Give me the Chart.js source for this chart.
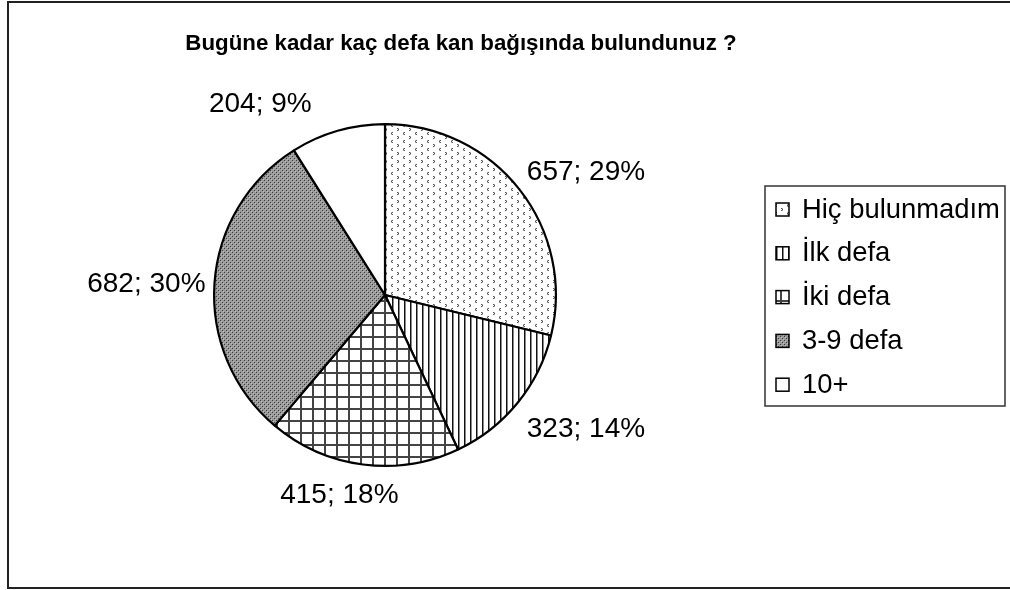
<!DOCTYPE html>
<html>
<head>
<meta charset="utf-8">
<script src="https://cdn.jsdelivr.net/npm/chart.js@4/dist/chart.umd.min.js"></script>
<style>
  html, body { margin: 0; padding: 0; background: #fff; }
  #wrap { width: 1010px; height: 590px; position: relative; }
</style>
</head>
<body>
<div id="wrap"><canvas id="c" width="1010" height="590"></canvas></div>
<script>
const chartTitle = 'Bugüne kadar kaç defa kan bağışında bulundunuz ?';
const categories = ['Hiç bulunmadım', 'İlk defa', 'İki defa', '3-9 defa', '10+'];
const counts = [657, 323, 415, 682, 204];

const FONT = "'Liberation Sans', Arial, sans-serif";

function makePattern(w, h, draw) {
  const c = document.createElement('canvas');
  c.width = w; c.height = h;
  const g = c.getContext('2d');
  draw(g, w, h);
  return g.createPattern(c, 'repeat');
}
const ctxMain = document.getElementById('c').getContext('2d');

const patHic = makePattern(12, 8, (g) => {
  g.fillStyle = '#fff'; g.fillRect(0, 0, 12, 8);
  g.fillStyle = '#555';
  // ">" glyph
  g.fillRect(1, 0, 1, 1); g.fillRect(2, 1, 1, 1); g.fillRect(1, 2, 1, 1);
  // "<" glyph
  g.fillRect(8, 4, 1, 1); g.fillRect(7, 5, 1, 1); g.fillRect(8, 6, 1, 1);
  g.fillStyle = '#aaa';
  g.fillRect(2, 0, 1, 1); g.fillRect(2, 2, 1, 1);
  g.fillRect(7, 4, 1, 1); g.fillRect(7, 6, 1, 1);
});
const patIlk = makePattern(6, 6, (g) => {
  g.fillStyle = '#fff'; g.fillRect(0, 0, 6, 6);
  g.fillStyle = '#111'; g.fillRect(2, 0, 1, 6);
  g.fillStyle = '#888'; g.fillRect(3, 0, 1, 6);
});
const patIki = makePattern(12, 12, (g) => {
  g.fillStyle = '#fff'; g.fillRect(0, 0, 12, 12);
  g.fillStyle = '#444'; g.fillRect(0, 0, 2, 12); g.fillRect(0, 0, 12, 2);
});
const pat39 = makePattern(4, 4, (g) => {
  g.fillStyle = '#9a9a9a'; g.fillRect(0, 0, 4, 4);
  g.fillStyle = '#3a3a3a'; g.fillRect(0, 0, 1, 1); g.fillRect(2, 2, 1, 1);
  g.fillStyle = '#c0c0c0'; g.fillRect(1, 1, 1, 1); g.fillRect(3, 3, 1, 1);
});
const fills = [patHic, patIlk, patIki, pat39, '#ffffff'];

const total = counts.reduce((a, b) => a + b, 0);

const framePlugin = {
  id: 'frame',
  beforeDraw(chart) {
    const g = chart.ctx;
    g.save();
    g.fillStyle = '#fff';
    g.fillRect(0, 0, chart.width, chart.height);
    g.strokeStyle = '#222';
    g.lineWidth = 2;
    g.strokeRect(8, 2, chart.width + 10, chart.height - 4);
    // title
    g.fillStyle = '#000';
    g.font = 'bold 22.3px ' + FONT;
    g.textAlign = 'center';
    g.textBaseline = 'middle';
    g.fillText(chartTitle, 461, 44);
    g.restore();
  }
};

const labelPlugin = {
  id: 'sliceLabels',
  afterDatasetsDraw(chart, args, opts) {
    const g = chart.ctx;
    const meta = chart.getDatasetMeta(0);
    const ds = chart.data.datasets[0];
    const nudge = opts.nudge || [];
    g.save();
    g.fillStyle = '#000';
    g.font = '28px ' + FONT;
    meta.data.forEach((arc, i) => {
      const p = arc.getProps(['x', 'y', 'startAngle', 'endAngle', 'outerRadius'], true);
      const mid = (p.startAngle + p.endAngle) / 2;
      const cx = Math.cos(mid), sy = Math.sin(mid);
      const r = p.outerRadius + 12;
      const n = nudge[i] || [0, 0];
      const ax = p.x + r * cx + n[0], ay = p.y + r * sy + n[1];
      g.textAlign = cx > 0.3 ? 'left' : (cx < -0.3 ? 'right' : 'center');
      g.textBaseline = sy < -0.3 ? 'bottom' : (sy > 0.3 ? 'top' : 'middle');
      const v = ds.data[i];
      const pct = Math.round(v / total * 100);
      g.fillText(v + '; ' + pct + '%', ax, ay);
    });
    g.restore();
  }
};

const legendPlugin = {
  id: 'boxLegend',
  afterDraw(chart) {
    const g = chart.ctx;
    const ds = chart.data.datasets[0];
    const labels = chart.data.labels;
    const left = 765, top = 186, w = 240, h = 220;
    g.save();
    g.fillStyle = '#fff';
    g.fillRect(left, top, w, h);
    g.strokeStyle = '#333';
    g.lineWidth = 1.5;
    g.strokeRect(left, top, w, h);
    const step = 43.8;
    const y0 = top + 23;
    g.font = '27.4px ' + FONT;
    g.textAlign = 'left';
    g.textBaseline = 'middle';
    labels.forEach((lab, i) => {
      const y = y0 + i * step;
      g.fillStyle = ds.backgroundColor[i];
      g.fillRect(776, y - 6, 13, 13);
      g.strokeStyle = '#000';
      g.lineWidth = 1.5;
      g.strokeRect(776, y - 6, 13, 13);
      g.fillStyle = '#000';
      g.fillText(lab, 802, y + 1);
    });
    g.restore();
  }
};

new Chart(ctxMain, {
  type: 'pie',
  data: {
    labels: categories,
    datasets: [{
      data: counts,
      backgroundColor: fills,
      borderColor: '#000',
      borderWidth: 2.2
    }]
  },
  options: {
    responsive: false,
    animation: false,
    events: [],
    layout: { padding: { left: 213, right: 453, top: 123, bottom: 123 } },
    plugins: {
      legend: { display: false },
      title: { display: false },
      tooltip: { enabled: false },
      sliceLabels: { nudge: [[-2, 4], [0, 5], [-22, 5], [3, 2], [-74, -1]] }
    }
  },
  plugins: [framePlugin, labelPlugin, legendPlugin]
});
</script>
</body>
</html>
